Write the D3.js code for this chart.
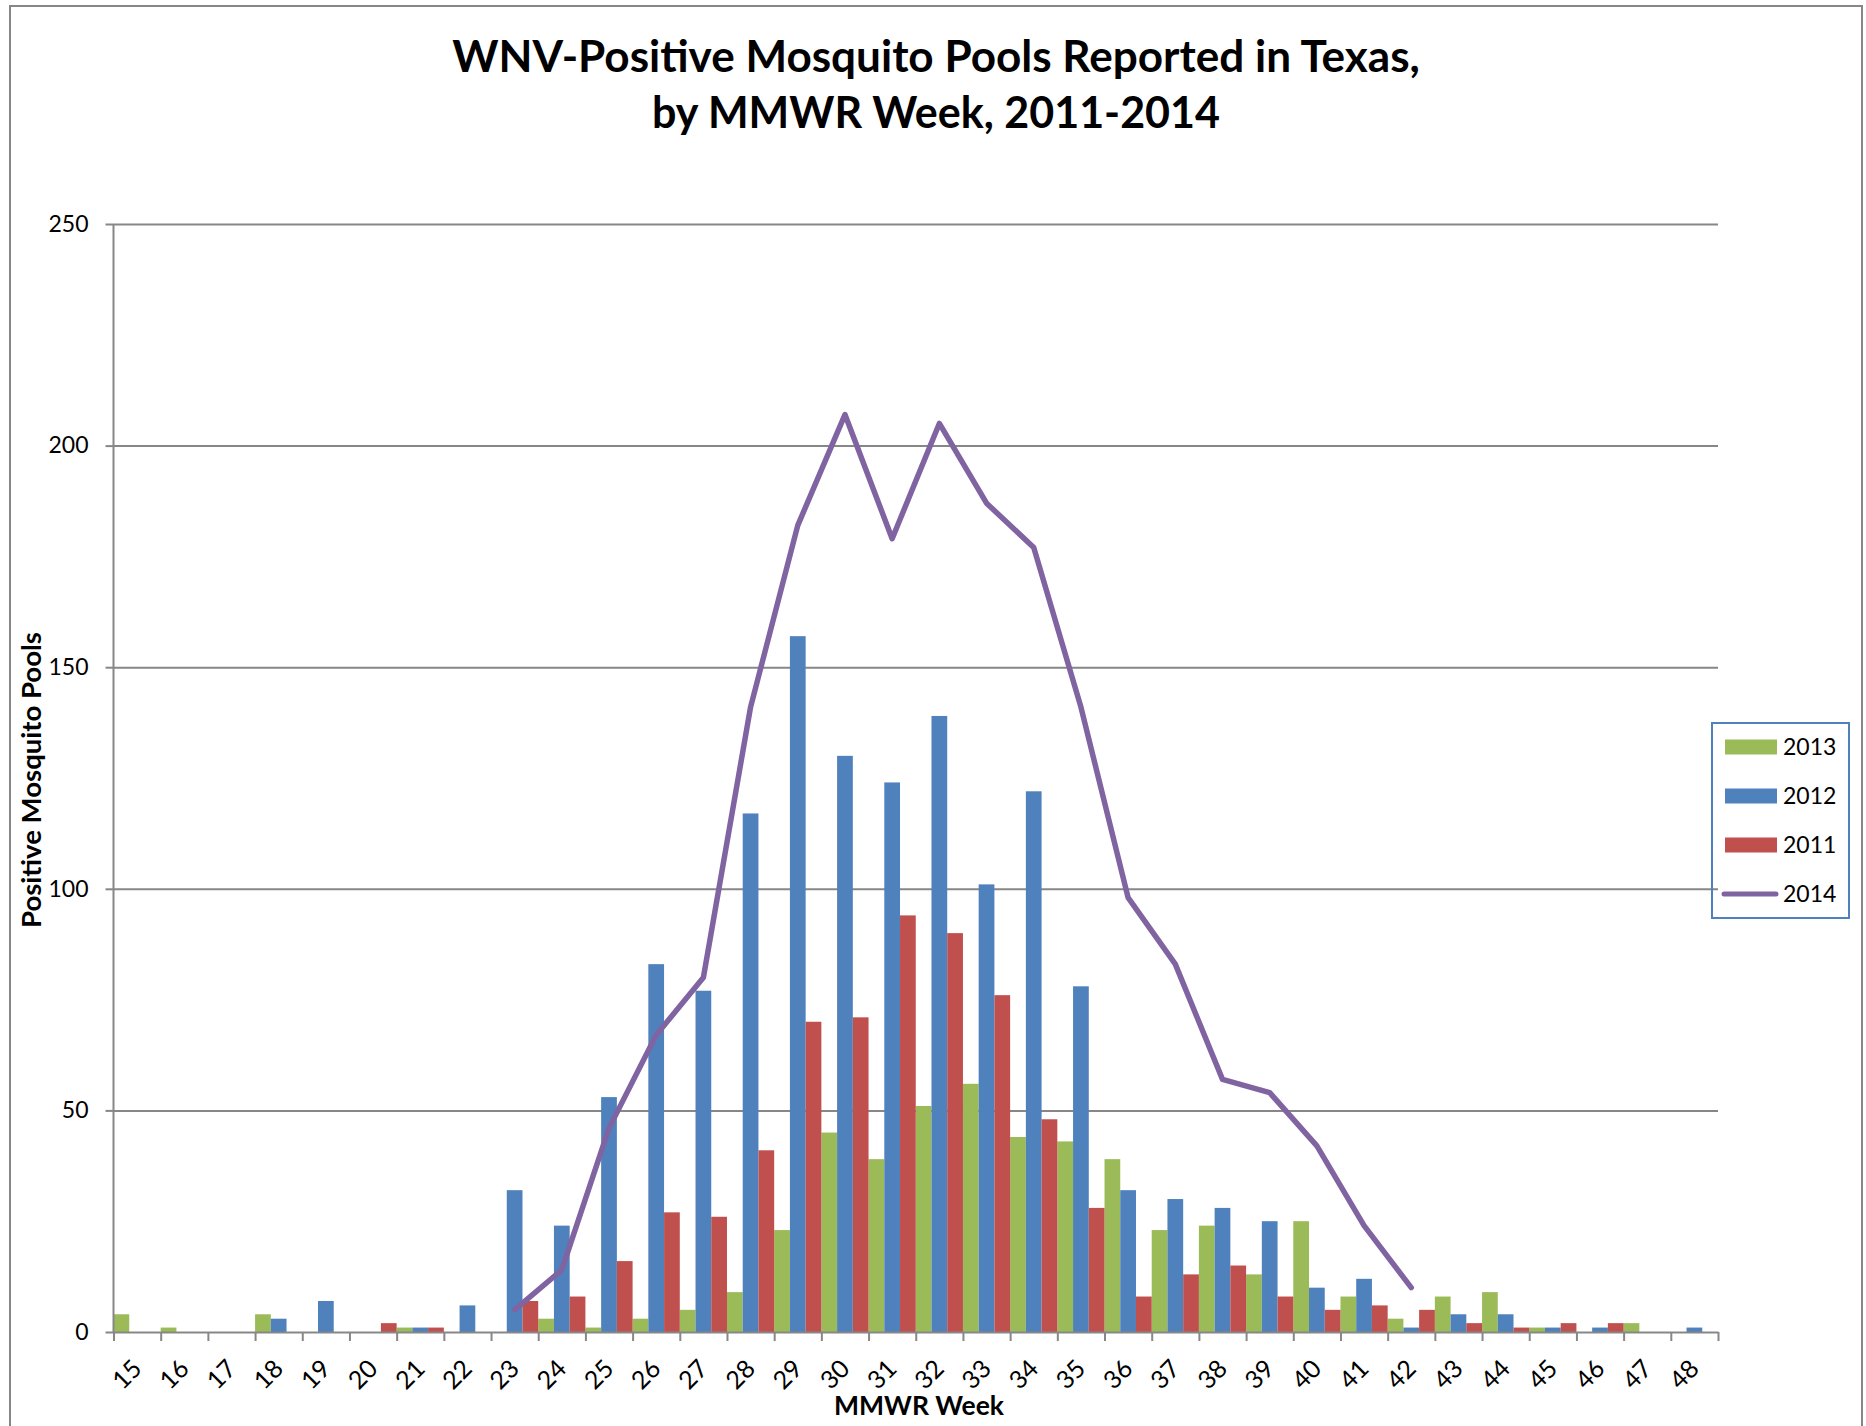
<!doctype html>
<html lang="en">
  <head>
    <meta charset="utf-8">
    <title>WNV-Positive Mosquito Pools Reported in Texas</title>
    <script src="https://d3js.org/d3.v7.min.js"></script>
    <style>
      body { margin: 0; background: #fff; }
      text { font-family: Lato, "Open Sans", sans-serif; fill: #000; }
      .grid line { stroke: #878787; stroke-width: 2; }
      .grid .domain { display: none; }
      .axis path, .axis line { stroke: #878787; stroke-width: 2; }
    </style>
  </head>
  <body>
    <div id="chart"></div>
    <script>
      // data
      const weeks = ["15","16","17","18","19","20","21","22","23","24","25","26","27","28","29","30","31",
                     "32","33","34","35","36","37","38","39","40","41","42","43","44","45","46","47","48"];
      const y2013 = [4,1,0,4,0,0,1,0,0,3,1,3,5,9,23,45,39,51,56,44,43,39,23,24,13,25,8,3,8,9,1,0,2,0];
      const y2012 = [0,0,0,3,7,0,1,6,32,24,53,83,77,117,157,130,124,139,101,122,78,32,30,28,25,10,12,1,4,4,1,1,0,1];
      const y2011 = [0,0,0,0,0,2,1,0,7,8,16,27,26,41,70,71,94,90,76,48,28,8,13,15,8,5,6,5,2,1,2,2,0,0];
      const y2014 = [null,null,null,null,null,null,null,null,5,14,46,67,80,141,182,207,179,205,187,177,141,98,83,57,54,42,24,10,null,null,null,null,null,null];
      const yTicks = [0, 50, 100, 150, 200, 250];

      const barSeries = [
        {name: "2013", values: y2013, color: "#9BBB59"},
        {name: "2012", values: y2012, color: "#4F81BD"},
        {name: "2011", values: y2011, color: "#C0504D"}
      ];
      const lineColor = "#8064A2";

      const W = 1866, H = 1426;
      const plot = {left: 113.5, right: 1718, top: 224, bottom: 1332};

      const svg = d3.select("#chart").append("svg")
        .attr("width", W)
        .attr("height", H);

      // outer chart border
      svg.append("rect")
        .attr("x", 10).attr("y", 6)
        .attr("width", 1852).attr("height", 1440)
        .attr("fill", "none")
        .attr("stroke", "#878787")
        .attr("stroke-width", 2);

      function fitText(t, w) {
        const cur = t.node().getComputedTextLength();
        const fs = parseFloat(t.style("font-size"));
        t.style("font-size", (fs * w / cur) + "px");
      }

      const x = d3.scaleBand().domain(weeks).range([plot.left, plot.right]);
      const xs = d3.scaleBand().domain(barSeries.map(d => d.name)).range([0, x.bandwidth()]);
      const y = d3.scaleLinear().domain([0, 250]).range([plot.bottom, plot.top]);

      // grid
      svg.append("g")
        .attr("class", "grid")
        .attr("transform", `translate(${plot.left},0)`)
        .call(d3.axisLeft(y).tickValues(yTicks.slice(1)).tickSize(-(plot.right - plot.left)).tickFormat(""));

      // bars
      barSeries.forEach(s => {
        svg.append("g")
          .selectAll("rect")
          .data(s.values)
          .join("rect")
            .attr("x", (d, i) => x(weeks[i]) + xs(s.name))
            .attr("width", xs.bandwidth())
            .attr("y", d => y(d))
            .attr("height", d => y(0) - y(d))
            .attr("fill", s.color);
      });

      // y axis
      const yAxis = svg.append("g")
        .attr("class", "axis")
        .attr("transform", `translate(${plot.left},0)`)
        .call(d3.axisLeft(y).tickValues(yTicks).tickSize(8).tickPadding(17));
      yAxis.select(".domain").attr("d", `M0,${plot.top}V${plot.bottom}`);
      yAxis.selectAll("text").style("font-size", "23px").style("font-family", "Lato, sans-serif");

      // x axis: ticks between categories, labels rotated
      const xb = d3.scaleLinear().domain([0, weeks.length]).range([plot.left, plot.right]);
      svg.append("g")
        .attr("class", "axis")
        .attr("transform", `translate(0,${plot.bottom})`)
        .call(d3.axisBottom(xb).tickValues(d3.range(weeks.length + 1)).tickSize(9).tickSizeOuter(0).tickFormat(""));

      const xLab = svg.append("g")
        .attr("transform", `translate(0,${plot.bottom})`)
        .call(d3.axisBottom(x).tickSize(0));
      xLab.select(".domain").remove();
      xLab.selectAll("text")
        .style("font-size", "25px")
        .style("font-family", "Lato, sans-serif")
        .attr("y", 0)
        .attr("dy", "0.35em")
        .attr("text-anchor", "end")
        .attr("transform", "translate(0,32) rotate(-45)");

      // 2014 line
      const line = d3.line()
        .defined(d => d != null)
        .x((d, i) => x(weeks[i]) + x.bandwidth() / 2)
        .y(d => y(d));
      svg.append("path")
        .datum(y2014)
        .attr("fill", "none")
        .attr("stroke", lineColor)
        .attr("stroke-width", 5.5)
        .attr("stroke-linejoin", "round")
        .attr("stroke-linecap", "round")
        .attr("d", line);

      // titles
      const t1 = svg.append("text")
        .attr("x", 936).attr("y", 72)
        .attr("text-anchor", "middle")
        .style("font-weight", "bold")
        .style("font-size", "40px")
        .text("WNV-Positive Mosquito Pools Reported in Texas,");
      fitText(t1, 968);
      const t2 = svg.append("text")
        .attr("x", 936).attr("y", 128)
        .attr("text-anchor", "middle")
        .style("font-weight", "bold")
        .style("font-size", "40px")
        .text("by MMWR Week, 2011-2014");
      fitText(t2, 568);

      const xt = svg.append("text")
        .attr("x", 919).attr("y", 1415)
        .attr("text-anchor", "middle")
        .style("font-weight", "bold")
        .style("font-size", "24px")
        .text("MMWR Week");
      fitText(xt, 170);

      const yt = svg.append("text")
        .attr("transform", "translate(41,780) rotate(-90)")
        .attr("text-anchor", "middle")
        .style("font-weight", "bold")
        .style("font-size", "24px")
        .text("Positive Mosquito Pools");
      fitText(yt, 296);

      // legend
      const legend = svg.append("g");
      legend.append("rect")
        .attr("x", 1712).attr("y", 723)
        .attr("width", 137).attr("height", 195)
        .attr("fill", "none")
        .attr("stroke", "#4F81BD")
        .attr("stroke-width", 2);
      const items = barSeries.map(s => ({name: s.name, color: s.color, type: "bar"}))
        .concat([{name: "2014", color: lineColor, type: "line"}]);
      items.forEach((d, i) => {
        const cy = 747 + i * 49;
        if (d.type === "bar") {
          legend.append("rect")
            .attr("x", 1725).attr("y", cy - 7.5)
            .attr("width", 52).attr("height", 15)
            .attr("fill", d.color);
        } else {
          legend.append("line")
            .attr("x1", 1724).attr("x2", 1776)
            .attr("y1", cy).attr("y2", cy)
            .attr("stroke", d.color)
            .attr("stroke-width", 5)
            .attr("stroke-linecap", "round");
        }
        legend.append("text")
          .attr("x", 1783).attr("y", cy)
          .attr("dy", "0.35em")
          .style("font-size", "23px")
          .text(d.name);
      });
    </script>
  </body>
</html>
